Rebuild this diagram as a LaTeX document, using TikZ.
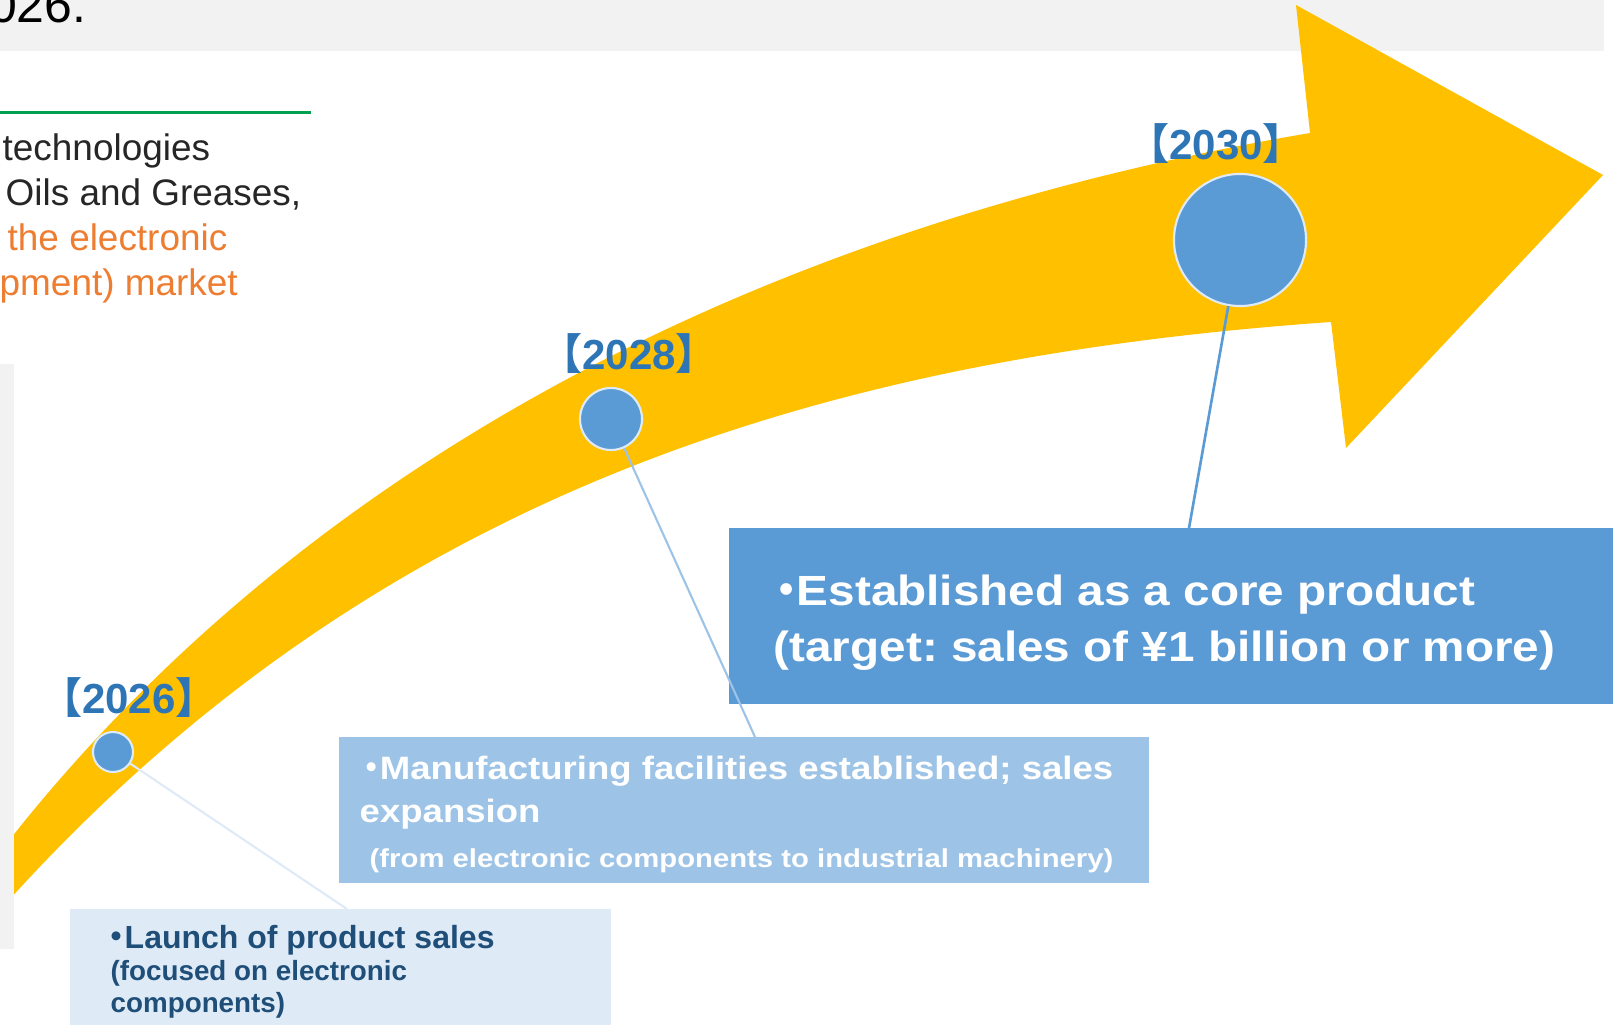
\documentclass[tikz,border=0pt]{standalone}
\usepackage{fontspec}
\setmainfont{Liberation Sans}
\newfontfamily\widefont[FakeStretch=1.13]{Liberation Sans}
\newfontfamily\cjk[RawFeature=+halt]{Noto Sans CJK JP}
\newcommand{\jp}[1]{{\cjk #1}}
\usetikzlibrary{calc}
\frenchspacing

\definecolor{bandgray}{HTML}{F2F2F2}
\definecolor{arrowyellow}{HTML}{FFC000}
\definecolor{dotblue}{HTML}{5B9BD5}
\definecolor{paleblue}{HTML}{DEEBF7}
\definecolor{midblue}{HTML}{9DC3E6}
\definecolor{yearblue}{HTML}{2E75B6}
\definecolor{navy}{HTML}{1F4E79}
\definecolor{rulegreen}{HTML}{00A050}
\definecolor{textgray}{HTML}{262626}
\definecolor{accent}{HTML}{ED7D31}

\tikzset{
    year/.style={text=yearblue, inner sep=0pt, anchor=base, font=\fontsize{11.95}{14}\selectfont\bfseries},
    dot/.style={circle, fill=dotblue, draw=paleblue, line width=0.6pt, inner sep=0pt},
    panel/.style={anchor=north west, inner sep=0pt, outer sep=0pt},
    txt/.style={anchor=base west, inner sep=0pt},
}

\begin{document}
\begin{tikzpicture}[x=0.01cm, y=-0.01cm]

        \path[use as bounding box, clip] (0,0) rectangle (1613,1025);

                \fill[bandgray] (0,0) rectangle (1604,51);

                \fill[arrowyellow] (0,852) .. controls (300,465) and (760,226) .. (1310,133)
                    -- (1296,5) -- (1603,175) -- (1346,448) -- (1331,322)
                    .. controls (831,357) and (375,490) .. (0,910) -- cycle;

                \fill[bandgray] (0,364) rectangle (14,949);


                \node[anchor=base east, inner sep=0pt, font=\fontsize{14.2}{17}\selectfont] (title) at (87,23) {026.};

                \draw[rulegreen, line width=0.85pt] (0,113) -- (311,113);

                \begin{scope}[every node/.style={txt, font=\fontsize{10.5}{12.6}\selectfont}]
                    \node[text=textgray] (t1) at (2,161) {technologies};
                    \node[text=textgray] (t2) at (5,206) {Oils and Greases,};
                    \node[text=accent] (t3) at (7,251) {the electronic};
                    \node[text=accent] (t4) at (-1,296) {pment) market};
                \end{scope}


                \node[panel, fill=dotblue, minimum width=8.84cm, minimum height=1.76cm] (b30) at (729,528) {};
                \node[panel, fill=midblue, minimum width=8.10cm, minimum height=1.46cm] (b28) at (339,737) {};
                \node[panel, fill=paleblue, minimum width=5.41cm, minimum height=1.16cm] (b26) at (70,909) {};

                \begin{scope}[every node/.style={txt, text=white, font=\fontsize{12}{14}\widefont\bfseries}]
                    \node (l30a) at (775,605) {\jp{・}Established as a core product};
                    \node (l30b) at (773,661) {(target: sales of ¥1 billion or more)};
                \end{scope}

                \begin{scope}[every node/.style={txt, text=white, font=\fontsize{9.2}{11}\widefont\bfseries}]
                    \node (l28a) at (363,779) {\jp{・}Manufacturing facilities established; sales};
                    \node (l28b) at (359,822) {expansion};
                    \node[font=\fontsize{7.37}{9}\widefont\bfseries] (l28c) at (369,867) {(from electronic components to industrial machinery)};
                \end{scope}

                \begin{scope}[every node/.style={txt, text=navy, font=\fontsize{7.9}{9.5}\selectfont\bfseries}]
                    \node[font=\fontsize{9.1}{11}\selectfont\bfseries] (l26a) at (108,948) {\jp{・}Launch of product sales};
                    \node (l26b) at (110,980) {(focused on electronic};
                    \node (l26c) at (110,1012) {components)};
                \end{scope}


                \foreach \n/\x/\y/\d in {26/113/752/0.40, 28/611/419/0.62, 30/1240/240/1.32} {
                    \node[dot, minimum size=\d cm] (c\n) at (\x,\y) {};
                }

                \draw[paleblue, line width=0.6pt] (c26) -- ($(b26.north west)+(277,0)$);
                \draw[midblue, line width=0.6pt] (c28) -- ($(b28.north west)+(416,0)$);
                \draw[dotblue, line width=0.75pt] (c30) -- ($(b30.north west)+(460,0)$);

                \foreach \n/\x/\y in {26/129/713, 28/629/370, 30/1216/160} {
                    \node[year] (y\n) at (\x,\y) {\jp{【}20\n\jp{】}};
                }

\end{tikzpicture}
\end{document}
